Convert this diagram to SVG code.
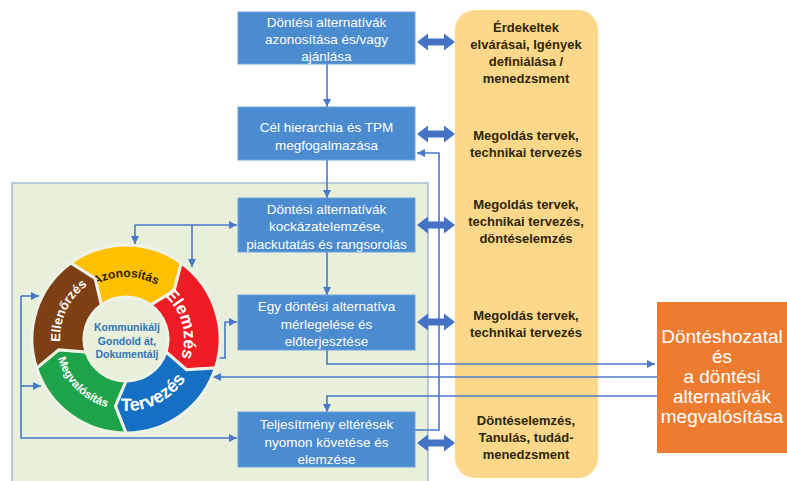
<svg xmlns="http://www.w3.org/2000/svg" xmlns:xlink="http://www.w3.org/1999/xlink" width="787" height="481" viewBox="0 0 787 481">
<style>
.box{fill:#4b8bd0;stroke:#6fa2da;stroke-width:1}
.bt{fill:#ffffff;font-family:"Liberation Sans",Arial,sans-serif;font-size:13.5px;text-anchor:middle}
.yt{fill:#2e2608;font-family:"Liberation Sans",Arial,sans-serif;font-size:13px;font-weight:bold;text-anchor:middle}
.ot{fill:#ffffff;font-family:"Liberation Sans",Arial,sans-serif;font-size:19px;text-anchor:middle}
.ct{fill:#2e75b6;font-family:"Liberation Sans",Arial,sans-serif;font-size:10.5px;font-weight:bold;text-anchor:middle}
.rt{font-family:"Liberation Sans",Arial,sans-serif;font-weight:bold}
.ln{fill:none;stroke:#4a78c8;stroke-width:1.6}
.seg{stroke:#eef3e6;stroke-width:3;stroke-linejoin:round}
.dbl{fill:#4472c4}
</style>
<defs>
<marker id="ah" viewBox="0 0 10 10" refX="10" refY="5" markerWidth="8" markerHeight="8" markerUnits="userSpaceOnUse" orient="auto">
<path d="M0,0 L10,5 L0,10 z" fill="#4a78c8"/>
</marker>
<path id="dblArrow" d="M417,0 L428,-8.5 L428,-3.5 L444,-3.5 L444,-8.5 L455,0 L444,8.5 L444,3.5 L428,3.5 L428,8.5 Z"/>
<path id="pAz" d="M86.15,291.51 A62,62 0 0 1 165.85,291.51"/>
<path id="pEl" d="M159.27,291.49 A58,58 0 0 1 178.57,363.51"/>
<path id="pTe" d="M108.58,408.86 A72,72 0 0 0 191.77,368.28"/>
<path id="pMe" d="M55.5,345.2 A71,71 0 0 0 119.8,409.7"/>
<path id="pEll" d="M61.94,354.97 A66,66 0 0 1 99.15,278.71"/>
</defs>

<rect x="0" y="0" width="787" height="481" fill="#ffffff"/>

<g id="green-panel">
<rect x="12" y="183" width="416" height="310" fill="#e8f0dc" stroke="#a7b9cf" stroke-width="1.5"/>
</g>

<g id="yellow-panel">
<rect x="455" y="10" width="143" height="468" rx="20" ry="20" fill="#fdd88b"/>
<text class="yt"><tspan x="526" y="31.5">Érdekeltek</tspan><tspan x="526" y="48.5">elvárásai, Igények</tspan><tspan x="526" y="65.5">definiálása /</tspan><tspan x="526" y="82.5">menedzsment</tspan></text>
<text class="yt"><tspan x="526" y="139.5">Megoldás tervek,</tspan><tspan x="526" y="156.5">technikai tervezés</tspan></text>
<text class="yt"><tspan x="526" y="208.5">Megoldás tervek,</tspan><tspan x="526" y="225.5">technikai tervezés,</tspan><tspan x="526" y="242.5">döntéselemzés</tspan></text>
<text class="yt"><tspan x="526" y="320">Megoldás tervek,</tspan><tspan x="526" y="337">technikai tervezés</tspan></text>
<text class="yt"><tspan x="526" y="424.5">Döntéselemzés,</tspan><tspan x="526" y="441.5">Tanulás, tudád-</tspan><tspan x="526" y="458.5">menedzsment</tspan></text>
</g>

<g id="orange-box">
<rect x="657" y="302" width="135" height="151" fill="#ee7c30"/>
<text class="ot"><tspan x="722" y="343">Döntéshozatal</tspan><tspan x="722" y="363">és</tspan><tspan x="722" y="383">a döntési</tspan><tspan x="722" y="403">alternatívák</tspan><tspan x="722" y="423">megvalósítása</tspan></text>
</g>

<g id="connectors">
<line class="ln" x1="327" y1="64" x2="327" y2="107" marker-end="url(#ah)"/>
<line class="ln" x1="327" y1="160" x2="327" y2="198" marker-end="url(#ah)"/>
<line class="ln" x1="327" y1="252" x2="327" y2="295" marker-end="url(#ah)"/>
<path class="ln" d="M415,430 H439 V153 H417" marker-end="url(#ah)"/>
<path class="ln" d="M327,350 V364 H655" marker-end="url(#ah)"/>
<path class="ln" d="M657,377 H213" marker-end="url(#ah)"/>
<path class="ln" d="M657,396 H327 V412" marker-end="url(#ah)"/>
<path class="ln" d="M135,225 H237" marker-end="url(#ah)"/>
<path class="ln" d="M135,225 V244" marker-end="url(#ah)"/>
<path class="ln" d="M192,225 V267" marker-end="url(#ah)"/>
<path class="ln" d="M217,358 H225 V322 H237" marker-end="url(#ah)"/>
<path class="ln" d="M21,296 V438 H237" marker-end="url(#ah)"/>
<path class="ln" d="M21,296 H39" marker-end="url(#ah)"/>
<path class="ln" d="M21,386 H41" marker-end="url(#ah)"/>
<use href="#dblArrow" xlink:href="#dblArrow" class="dbl" transform="translate(0,42)"/>
<use href="#dblArrow" xlink:href="#dblArrow" class="dbl" transform="translate(0,134)"/>
<use href="#dblArrow" xlink:href="#dblArrow" class="dbl" transform="translate(0,225)"/>
<use href="#dblArrow" xlink:href="#dblArrow" class="dbl" transform="translate(0,322)"/>
<use href="#dblArrow" xlink:href="#dblArrow" class="dbl" transform="translate(0,443)"/>
</g>

<g id="box1">
<rect class="box" x="238" y="12" width="177" height="52"/>
<text class="bt"><tspan x="326.5" y="26.5">Döntési alternatívák</tspan><tspan x="326.5" y="44">azonosítása és/vagy</tspan><tspan x="326.5" y="61">ajánlása</tspan></text>
</g>
<g id="box2">
<rect class="box" x="238" y="107" width="177" height="53"/>
<text class="bt"><tspan x="326.5" y="131.5">Cél hierarchia és TPM</tspan><tspan x="326.5" y="149.5">megfogalmazása</tspan></text>
</g>
<g id="box3">
<rect class="box" x="238" y="198" width="177" height="54"/>
<text class="bt"><tspan x="326.5" y="213.5">Döntési alternatívák</tspan><tspan x="326.5" y="231">kockázatelemzése,</tspan><tspan x="326.5" y="248.5">piackutatás és rangsorolás</tspan></text>
</g>
<g id="box4">
<rect class="box" x="238" y="295" width="177" height="55"/>
<text class="bt"><tspan x="326.5" y="310.5">Egy döntési alternatíva</tspan><tspan x="326.5" y="328.5">mérlegelése és</tspan><tspan x="326.5" y="346">előterjesztése</tspan></text>
</g>
<g id="box5">
<rect class="box" x="238" y="412" width="177" height="55"/>
<text class="bt"><tspan x="326.5" y="428.5">Teljesítmény eltérések</tspan><tspan x="326.5" y="446.5">nyomon követése és</tspan><tspan x="326.5" y="463.5">elemzése</tspan></text>
</g>

<g id="cycle">
<g id="seg-azonositas">
<path class="seg" fill="#ffc000" d="M70.75,262.95 A94,94 0 0 1 181.25,262.95 L174.08,290.92 L150.69,305.02 A42,42 0 0 0 101.31,305.02 L95.13,278.41 Z"/>
<text class="rt" font-size="12" fill="#2b1d00"><textPath href="#pAz" xlink:href="#pAz" startOffset="50%" text-anchor="middle">Azonosítás</textPath></text>
</g>
<g id="seg-elemzes">
<path class="seg" fill="#ee1c24" d="M181.25,262.95 A94,94 0 0 1 215.40,368.05 L186.59,369.87 L165.95,351.98 A42,42 0 0 0 150.69,305.02 L174.08,290.92 Z"/>
<text class="rt" font-size="17" fill="#ffffff"><textPath href="#pEl" xlink:href="#pEl" startOffset="50%" text-anchor="middle">Elemzés</textPath></text>
</g>
<g id="seg-tervezes">
<path class="seg" fill="#1570c4" d="M215.40,368.05 A94,94 0 0 1 126,433 L115.36,406.16 L126,381 A42,42 0 0 0 165.95,351.98 L186.59,369.87 Z"/>
<text class="rt" font-size="18" fill="#ffffff"><textPath href="#pTe" xlink:href="#pTe" startOffset="50%" text-anchor="middle">Tervezés</textPath></text>
</g>
<g id="seg-megvalositas">
<path class="seg" fill="#1ea24a" d="M126,433 A94,94 0 0 1 36.60,368.05 L58.84,349.64 L86.05,351.98 A42,42 0 0 0 126,381 L115.36,406.16 Z"/>
<text class="rt" font-size="11.5" fill="#ffffff"><textPath href="#pMe" xlink:href="#pMe" startOffset="50%" text-anchor="middle">Megvalósítás</textPath></text>
</g>
<g id="seg-ellenorzes">
<path class="seg" fill="#7d3f14" d="M36.60,368.05 A94,94 0 0 1 70.75,262.95 L95.13,278.41 L101.31,305.02 A42,42 0 0 0 86.05,351.98 L58.84,349.64 Z"/>
<text class="rt" font-size="13" fill="#ffffff"><textPath href="#pEll" xlink:href="#pEll" startOffset="50%" text-anchor="middle">Ellenőrzés</textPath></text>
</g>
<g id="center-text">
<text class="ct"><tspan x="127" y="331">Kommunikálj</tspan><tspan x="127" y="344.5">Gondold át,</tspan><tspan x="127" y="358">Dokumentálj</tspan></text>
</g>
</g>
</svg>
